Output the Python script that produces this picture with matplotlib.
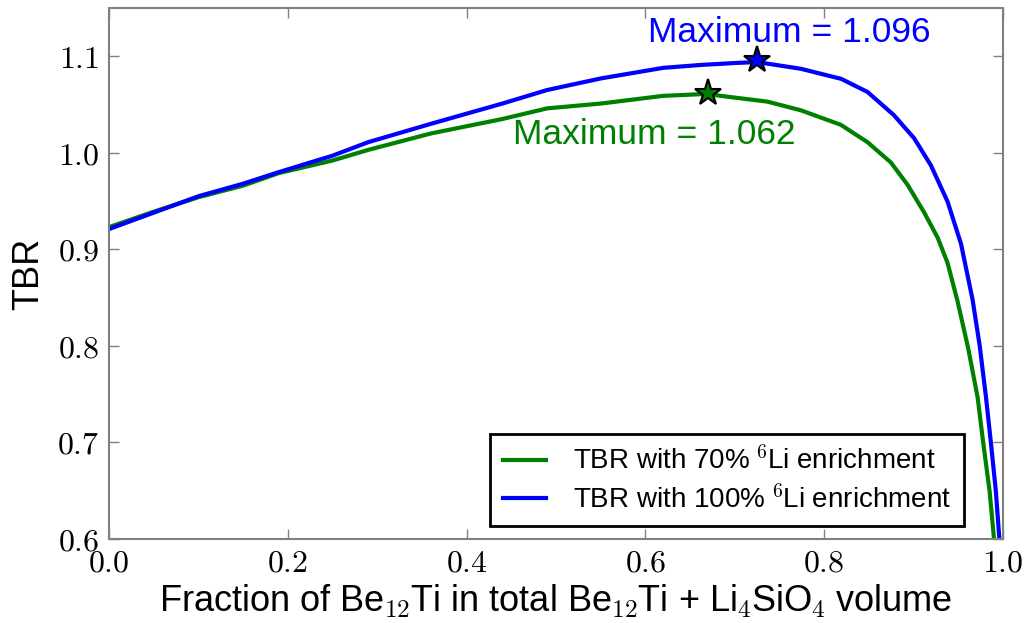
import numpy as np
import matplotlib
matplotlib.use("Agg")
import matplotlib.pyplot as plt
from matplotlib.ticker import FuncFormatter

# values
x_70 = [0.0, 0.05, 0.10, 0.15, 0.19, 0.25, 0.29, 0.36, 0.44, 0.49, 0.55, 0.62, 0.67,
        0.684, 0.7365, 0.774, 0.8186, 0.8485, 0.8746, 0.8932, 0.912, 0.927, 0.938,
        0.949, 0.961, 0.9716, 0.978, 0.985, 0.990]
tbr_70 = [0.923, 0.939, 0.954, 0.966, 0.979, 0.992, 1.003, 1.020, 1.035, 1.046, 1.051,
          1.059, 1.061, 1.059, 1.053, 1.044, 1.029, 1.011, 0.990, 0.967, 0.938, 0.912,
          0.886, 0.847, 0.798, 0.747, 0.699, 0.650, 0.600]

x_100 = [0.0, 0.05, 0.10, 0.15, 0.19, 0.25, 0.29, 0.36, 0.44, 0.49, 0.55, 0.62, 0.662,
         0.70, 0.725, 0.774, 0.819, 0.8485, 0.878, 0.9007, 0.9194, 0.938, 0.953, 0.966,
         0.974, 0.981, 0.9866, 0.992, 0.996]
tbr_100 = [0.921, 0.938, 0.955, 0.968, 0.980, 0.997, 1.011, 1.030, 1.051, 1.065, 1.077,
           1.088, 1.091, 1.093, 1.094, 1.087, 1.0766, 1.063, 1.039, 1.015, 0.987, 0.9495,
           0.906, 0.848, 0.800, 0.747, 0.699, 0.650, 0.600]

max_70 = (0.67, 1.062)
max_100 = (0.725, 1.096)

plt.rcParams['font.family'] = ['Liberation Sans', 'DejaVu Sans']
plt.rcParams['mathtext.fontset'] = 'cm'
plt.rcParams['mathtext.default'] = 'regular'

green = (0, 0.5, 0)
blue = (0, 0, 1)

fig = plt.figure(figsize=(10.29, 6.23), dpi=100)
ax = fig.add_axes([0.1059, 0.1348, 0.8688, 0.8524])

ax.plot(x_70, tbr_70, color=green, lw=3, label=r'TBR with 70% $^{\mathrm{6}}$Li enrichment')
ax.plot(x_100, tbr_100, color=blue, lw=3, label=r'TBR with 100% $^{\mathrm{6}}$Li enrichment')
ax.plot(*max_70, marker='*', ms=20, color=green, mec='k', mew=1.5)
ax.plot(*max_100, marker='*', ms=20, color=blue, mec='k', mew=1.5)

ax.text(0.4524, 1.009, 'Maximum = %.3f' % max_70[1], color=green, fontsize=25.5)
ax.text(0.6025, 1.115, 'Maximum = %.3f' % max_100[1], color=blue, fontsize=25.5)

ax.set_xlim(0, 1.0)
ax.set_ylim(0.6, 1.15)
ax.set_xticks(np.arange(0, 1.01, 0.2))
ax.set_yticks(np.arange(0.6, 1.11, 0.1))
fmt = FuncFormatter(lambda v, p: r'$\mathrm{%.1f}$' % v)
ax.xaxis.set_major_formatter(fmt)
ax.yaxis.set_major_formatter(fmt)
ax.tick_params(direction='in', length=7, width=1, color='#808080', labelsize=23,
               top=True, right=True, pad=7)
for s in ax.spines.values():
    s.set_color('#808080')
    s.set_linewidth(1.5)

ax.set_xlabel(r'Fraction of Be$_{\mathrm{12}}$Ti in total Be$_{\mathrm{12}}$Ti + '
              r'Li$_{\mathrm{4}}$SiO$_{\mathrm{4}}$ volume', fontsize=26, labelpad=2)
ax.set_ylabel('TBR', fontsize=26, labelpad=8)

leg = ax.legend(loc='lower right', bbox_to_anchor=(0.9563, 0.0245), borderaxespad=0,
                fontsize=20, fancybox=False, handlelength=1.55, handletextpad=1.0,
                borderpad=0.45, labelspacing=0.35, framealpha=1)
leg.get_frame().set_edgecolor('k')
leg.get_frame().set_linewidth(2)

fig.savefig('out.png', dpi=100)
